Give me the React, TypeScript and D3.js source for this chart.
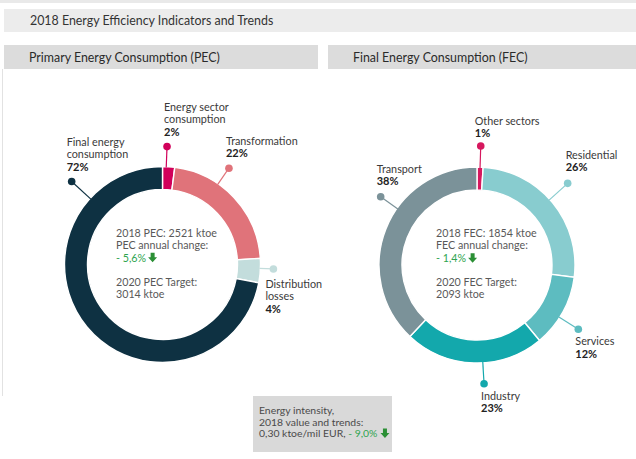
import React, { useEffect, useRef } from "react";
import * as d3 from "d3";

const TITLE = "2018 Energy Efficiency Indicators and Trends";
const PANEL_TITLES = ["Primary Energy Consumption (PEC)", "Final Energy Consumption (FEC)"];

const pecCategories = ["Energy sector consumption", "Transformation", "Distribution losses", "Final energy consumption"];
const pecLabelLines = [["Energy sector", "consumption"], ["Transformation"], ["Distribution", "losses"], ["Final energy", "consumption"]];
const pecValues = [2, 22, 4, 72];
const pecColors = ["#d1005a", "#e0737a", "#c3dddc", "#0e3142"];

const fecCategories = ["Other sectors", "Residential", "Services", "Industry", "Transport"];
const fecLabelLines = [["Other sectors"], ["Residential"], ["Services"], ["Industry"], ["Transport"]];
const fecValues = [1, 26, 12, 23, 38];
const fecColors = ["#d6185e", "#88cccf", "#5dbcc0", "#13a8ac", "#7b9299"];

const pecCenterLines = ["2018 PEC: 2521 ktoe", "PEC annual change:"];
const pecChange = "- 5,6%";
const pecTargetLines = ["2020 PEC Target:", "3014 ktoe"];
const fecCenterLines = ["2018 FEC: 1854 ktoe", "FEC annual change:"];
const fecChange = "- 1,4%";
const fecTargetLines = ["2020 FEC Target:", "2093 ktoe"];

const intensityLines = ["Energy intensity,", "2018 value and trends:"];
const intensityValue = "0,30 ktoe/mil EUR, ";
const intensityChange = "- 9,0%";

// layout (angles in degrees clockwise from top, r = dot radius, dx/dy = text offset from dot)
const pecLabelLayout = [
  { angle: 2.2, r: 118, dx: -3, dy: -11, below: false },
  { angle: 34.6, r: 117, dx: -3, dy: -11, below: false },
  { angle: 92.3, r: 111, dx: -8, dy: 19, below: true },
  { angle: -47.6, r: 123, dx: -5, dy: -11, below: false },
];
const fecLabelLayout = [
  { angle: 1.8, r: 119, dx: -6, dy: -9, below: false },
  { angle: 48, r: 122, dx: -2, dy: -12, below: false },
  { angle: 122.4, r: 120, dx: -3, dy: 16, below: true },
  { angle: 176.6, r: 119, dx: -3, dy: 16, below: true },
  { angle: -54.7, r: 118, dx: -4, dy: -12, below: false },
];

const W = 636;
const H = 459;
const FONT = "Lato, 'Open Sans', sans-serif";
const TEXT = "#3a3a3a";
const GREEN = "#2ea44f";
const ARROW = "#2b8f35";

export default function App() {
  const ref = useRef<SVGSVGElement>(null);

  useEffect(() => {
    const svg = d3.select(ref.current);
    svg.selectAll("*").remove();
    svg.attr("font-family", FONT);

    svg.append("rect").attr("x", 0).attr("y", 0).attr("width", W).attr("height", 3).attr("fill", "#e9e9e9");
    svg.append("rect").attr("x", 4).attr("y", 9).attr("width", W - 4).attr("height", 23).attr("fill", "#ececec");
    svg.append("text").attr("x", 30).attr("y", 24.5).attr("font-size", 12.4).attr("fill", "#333").text(TITLE);

    svg.append("line").attr("x1", 2.5).attr("x2", 2.5).attr("y1", 69).attr("y2", 396).attr("stroke", "#e2e2e2");

    const panelX = [4, 328];
    const panelW = [314, W - 328];
    PANEL_TITLES.forEach((t, i) => {
      svg.append("rect").attr("x", panelX[i]).attr("y", 45).attr("width", panelW[i]).attr("height", 24).attr("fill", "#dcdcdc");
      svg.append("text").attr("x", panelX[i] + 25).attr("y", 61.5).attr("font-size", 12.4).attr("fill", "#2a2a2a").text(t);
    });

    const R = 98;
    const r0 = 75;

    const drawArrow = (g: any, x: number, y: number) => {
      const p = d3.path();
      p.moveTo(x + 2.5, y - 9);
      p.lineTo(x + 6.5, y - 9);
      p.lineTo(x + 6.5, y - 4.5);
      p.lineTo(x + 9, y - 4.5);
      p.lineTo(x + 4.5, y + 0.5);
      p.lineTo(x, y - 4.5);
      p.lineTo(x + 2.5, y - 4.5);
      p.closePath();
      g.append("path").attr("d", p.toString()).attr("fill", ARROW);
    };

    const donut = (
      cx: number,
      cy: number,
      values: number[],
      colors: string[],
      labelLines: string[][],
      layout: any[],
      center: string[],
      change: string,
      target: string[],
      textDx: number
    ) => {
      const g = svg.append("g").attr("transform", `translate(${cx},${cy})`);
      const pie = d3.pie<number>().sort(null).value((d) => d);
      const arcs = pie(values);
      const arc = d3.arc<d3.PieArcDatum<number>>().innerRadius(r0).outerRadius(R);
      g.selectAll("path.seg")
        .data(arcs)
        .enter()
        .append("path")
        .attr("class", "seg")
        .attr("d", arc as any)
        .attr("fill", (_d, i) => colors[i])
        .attr("stroke", "#fff")
        .attr("stroke-width", 1.4);

      layout.forEach((l, i) => {
        const a = (l.angle * Math.PI) / 180;
        const sx = Math.sin(a);
        const sy = -Math.cos(a);
        const dotX = sx * l.r;
        const dotY = sy * l.r;
        g.append("line")
          .attr("x1", sx * (R - 1))
          .attr("y1", sy * (R - 1))
          .attr("x2", dotX)
          .attr("y2", dotY)
          .attr("stroke", colors[i])
          .attr("stroke-width", 1.2);
        g.append("circle").attr("cx", dotX).attr("cy", dotY).attr("r", 3.8).attr("fill", colors[i]);
        const lines = [...labelLines[i], `${values[i]}%`];
        const tx = dotX + l.dx;
        const lh = 12.3;
        const firstY = l.below ? dotY + l.dy : dotY + l.dy - (lines.length - 1) * lh;
        const t = g.append("text").attr("x", tx).attr("y", firstY).attr("font-size", 10.8).attr("fill", TEXT);
        lines.forEach((s, j) => {
          const last = j === lines.length - 1;
          t.append("tspan")
            .attr("x", tx)
            .attr("y", firstY + j * lh)
            .attr("font-size", last ? 11 : 10.8)
            .attr("font-weight", last ? 700 : 400)
            .attr("fill", last ? "#222" : TEXT)
            .text(s);
        });
      });

      const ct = g.append("g").attr("font-size", 10.7).attr("fill", "#595959");
      const lh = 12.4;
      const y0 = -28;
      const t1 = ct.append("text").attr("x", textDx).attr("y", y0);
      center.forEach((s, j) => {
        t1.append("tspan").attr("x", textDx).attr("y", y0 + j * lh).text(s);
      });
      const chY = y0 + 2 * lh + 0.5;
      t1.append("tspan").attr("x", textDx).attr("y", chY).attr("fill", GREEN).text(change);
      const tmp = ct.append("text").attr("x", -999).attr("y", -999).attr("opacity", 0).text(change);
      const w = (tmp.node() as SVGTextElement).getComputedTextLength();
      tmp.remove();
      drawArrow(ct, textDx + w + 2, chY);
      const t2 = ct.append("text").attr("x", textDx).attr("y", y0 + 49);
      target.forEach((s, j) => {
        t2.append("tspan").attr("x", textDx).attr("y", y0 + 49 + j * lh).text(s);
      });
    };

    donut(162.5, 264.5, pecValues, pecColors, pecLabelLines, pecLabelLayout, pecCenterLines, pecChange, pecTargetLines, -46.5);
    donut(477, 265, fecValues, fecColors, fecLabelLines, fecLabelLayout, fecCenterLines, fecChange, fecTargetLines, -41);

    // intensity box
    const b = svg.append("g");
    b.append("rect").attr("x", 253).attr("y", 396).attr("width", 139).attr("height", 56).attr("fill", "#d9d9d9");
    const bt = b.append("g").attr("font-size", 10.4).attr("fill", "#4a4a4a");
    const tb = bt.append("text").attr("x", 259).attr("y", 414);
    intensityLines.forEach((s, j) => {
      tb.append("tspan").attr("x", 259).attr("y", 414 + j * 11.7).text(s);
    });
    tb.append("tspan").attr("x", 259).attr("y", 437.4).text(intensityValue);
    tb.append("tspan").attr("fill", GREEN).text(intensityChange);
    const tmp = bt.append("text").attr("x", -999).attr("y", -999).attr("opacity", 0).text(intensityValue + intensityChange);
    const w3 = (tmp.node() as SVGTextElement).getComputedTextLength();
    tmp.remove();
    drawArrow(bt, 259 + w3 + 3, 437.4);
  }, []);

  return (
    <div style={{ position: "fixed", left: 0, top: 0, width: W, height: H, background: "#fff" }}>
      <svg ref={ref} width={W} height={H} viewBox={`0 0 ${W} ${H}`} />
    </div>
  );
}
